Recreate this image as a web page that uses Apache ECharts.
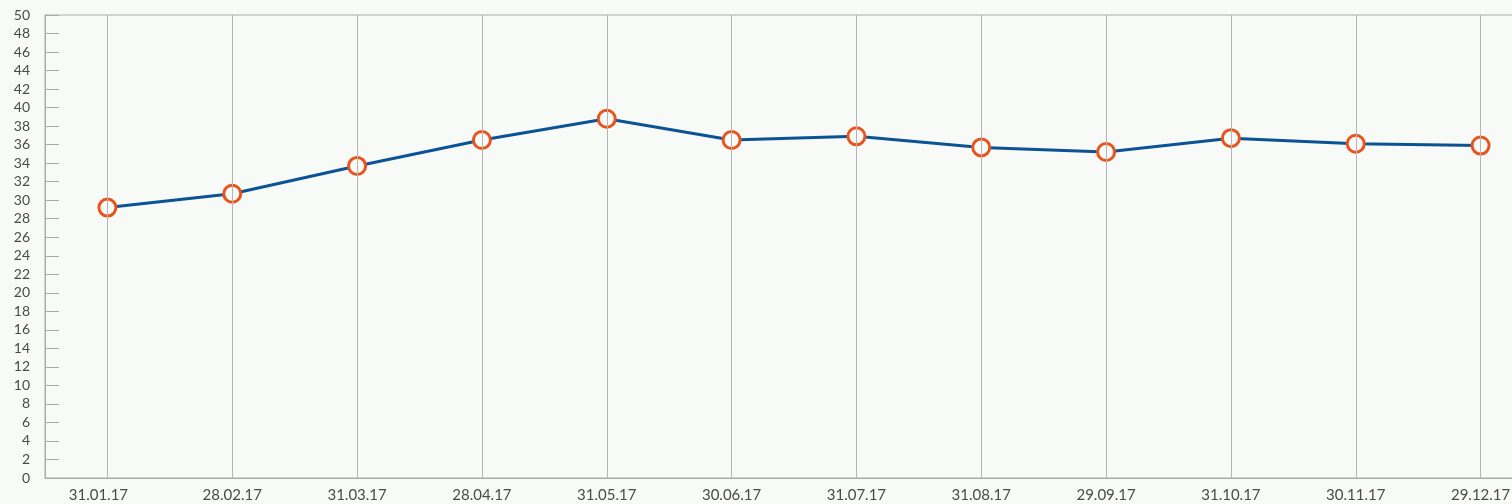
<!DOCTYPE html>
<html>
<head>
<meta charset="utf-8">
<script src="https://cdn.jsdelivr.net/npm/echarts@6/dist/echarts.min.js"></script>
<style>
  html, body { margin: 0; padding: 0; background: #f8faf8; }
  #main { width: 1512px; height: 504px; }
</style>
</head>
<body>
<div id="main"></div>
<script>
// data
var dates = ['31.01.17', '28.02.17', '31.03.17', '28.04.17', '31.05.17', '30.06.17',
             '31.07.17', '31.08.17', '29.09.17', '31.10.17', '30.11.17', '29.12.17'];
var values = [29.2, 30.7, 33.7, 36.5, 38.8, 36.5, 36.9, 35.7, 35.2, 36.7, 36.1, 35.9];

var gridLines = [];
var xData = [];
for (var i = 0; i < dates.length; i++) {
    gridLines.push({ xAxis: dates[i] });
    // first label sits a little left of its line in the original
    if (i == 0) {
        xData.push({ value: dates[i], textStyle: { padding: [0, 18, 0, 0] } });
    } else {
        xData.push(dates[i]);
    }
}

var chart = echarts.init(document.getElementById('main'));

var option = {
    backgroundColor: '#f8faf8',
    textStyle: { fontFamily: 'Lato' },
    grid: {
        left: 45,
        top: 15,
        bottom: 26,
        right: -31,
        outerBoundsMode: 'none',
        containLabel: false,
        show: true,
        borderColor: '#aaaaaa',
        borderWidth: 1,
        backgroundColor: 'transparent'
    },
    xAxis: {
        type: 'category',
        data: xData,
        boundaryGap: true,
        axisLine: { lineStyle: { color: '#aaaaaa', width: 1 } },
        axisTick: { show: false },
        axisLabel: { color: '#4a4a4a', fontSize: 15, margin: 10, fontFamily: 'Lato' },
        splitLine: { show: false }
    },
    yAxis: {
        type: 'value',
        min: 0,
        max: 50,
        interval: 2,
        axisLine: { show: true, lineStyle: { color: '#aaaaaa', width: 1 } },
        axisTick: { show: true, inside: true, length: 14, lineStyle: { color: '#aaaaaa' } },
        axisLabel: { color: '#4a4a4a', fontSize: 14, margin: 15, fontFamily: 'Lato' },
        splitLine: { show: false }
    },
    series: [
        {
            type: 'line',
            data: values,
            symbol: 'circle',
            symbolSize: 17,
            lineStyle: { color: '#0b5394', width: 3 },
            itemStyle: { color: '#f8faf8', borderColor: '#e8541e', borderWidth: 3 },
            z: 3,
            markLine: {
                silent: true,
                symbol: 'none',
                label: { show: false },
                lineStyle: { color: '#b5b5b5', width: 1, type: 'solid' },
                emphasis: { disabled: true },
                animation: false,
                data: gridLines
            }
        }
    ],
    animation: false
};

chart.setOption(option);
</script>
</body>
</html>
